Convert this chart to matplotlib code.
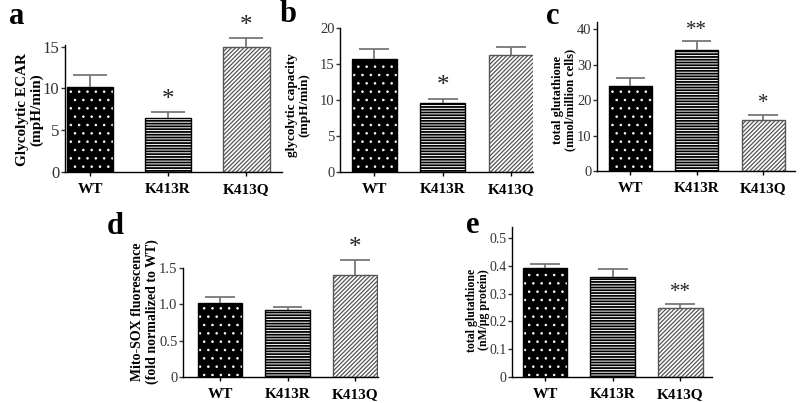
import matplotlib
matplotlib.use("Agg")
import matplotlib.pyplot as plt

plt.rcParams['font.family'] = ['Liberation Serif', 'DejaVu Serif']
plt.rcParams['hatch.linewidth'] = 0.9

groups = ['WT', 'K413R', 'K413Q']

# panel a: glycolytic ECAR
ecar = [10.2, 6.5, 15.0]
ecar_err = [1.4, 0.7, 1.0]
ecar_sig = ['', '*', '*']

# panel b: glycolytic capacity
capacity = [15.7, 9.6, 16.3]
capacity_err = [1.4, 0.6, 1.1]
capacity_sig = ['', '*', '']

# panel c: total glutathione per million cells
gsh_cells = [24.0, 34.2, 14.5]
gsh_cells_err = [2.2, 2.4, 1.3]
gsh_cells_sig = ['', '**', '*']

# panel d: Mito-SOX
mitosox = [1.02, 0.92, 1.41]
mitosox_err = [0.08, 0.05, 0.20]
mitosox_sig = ['', '', '*']

# panel e: total glutathione per ug protein
gsh_prot = [0.392, 0.360, 0.250]
gsh_prot_err = [0.014, 0.028, 0.014]
gsh_prot_sig = ['', '', '**']

W, H = 800, 403
fig = plt.figure(figsize=(8, 4.03), dpi=100)


def px_axes(left, right, top, bottom):
    return fig.add_axes([left / W, 1 - bottom / H, (right - left) / W, (bottom - top) / H])


def hatch_lw(bars, lw):
    for b in bars:
        if hasattr(b, 'set_hatch_linewidth'):
            b.set_hatch_linewidth(lw)


def draw_panel(ax, vals, errs, sigs, width, xlim, ylim, yticks, ytl, tick_fs, star_fs):
    x = range(len(vals))
    # WT: black with white dots
    b = ax.bar(x[0], vals[0], width, facecolor='black', edgecolor='white', hatch='..', linewidth=0)
    hatch_lw(b, 0.6)
    ax.bar(x[0], vals[0], width, facecolor='none', edgecolor='black', linewidth=1)
    # K413R: horizontal stripes
    b = ax.bar(x[1], vals[1], width, facecolor='white', edgecolor='black', hatch='------', linewidth=1)
    hatch_lw(b, 1.3)
    # K413Q: diagonal stripes
    b = ax.bar(x[2], vals[2], width, facecolor='white', edgecolor='#555555', hatch='////////', linewidth=1)
    hatch_lw(b, 0.9)
    for xi, v, e, s in zip(x, vals, errs, sigs):
        ax.vlines(xi, v, v + e, color='#777777', lw=1.3, clip_on=False)
        ax.hlines(v + e, xi - 0.22, xi + 0.22, color='#777777', lw=1.3, clip_on=False)
        if s:
            ax.text(xi, v + e + (ylim[1] - ylim[0]) * 0.01, s, ha='center', va='bottom',
                    fontsize=star_fs, color='#222222', clip_on=False)
    ax.set_xlim(*xlim)
    ax.set_ylim(*ylim)
    ax.set_yticks(yticks)
    ax.set_yticklabels(ytl, fontsize=tick_fs)
    ax.set_xticks(list(x))
    ax.set_xticklabels(groups, fontsize=11, fontweight='bold')
    for sp in ['top', 'right']:
        ax.spines[sp].set_visible(False)
    ax.spines['left'].set_linewidth(1)
    ax.spines['bottom'].set_linewidth(1)
    ax.tick_params(axis='y', length=3, width=1, pad=1, colors='#333333')
    ax.tick_params(axis='x', length=3, width=1, pad=5)


def ylabel(xc, yc, text, fs):
    fig.text(xc / W, 1 - yc / H, text, rotation=90, ha='center', va='center',
             fontsize=fs, fontweight='bold', linespacing=1.1)


def letter(xc, yc, text):
    fig.text(xc / W, 1 - yc / H, text, ha='center', va='center', fontsize=22, fontweight='bold')


ax_a = px_axes(65, 282, 45, 172)
draw_panel(ax_a, ecar, ecar_err, ecar_sig, 0.6, (-0.32, 2.46), (0, 15.2),
           [0, 5, 10, 15], ['0', '5', '10', '15'], 12, 18)
ylabel(30, 110, 'Glycolytic ECAR\n(mpH/min)', 11)
letter(17, 16, 'a')

ax_b = px_axes(340, 533, 28, 172)
draw_panel(ax_b, capacity, capacity_err, capacity_sig, 0.66, (-0.5, 2.32), (0, 20),
           [0, 5, 10, 15, 20], ['0', '5', '10', '15', '20'], 10.5, 18)
ylabel(298, 105, 'glycolytic capacity\n(mpH/min)', 9.5)
letter(288, 14, 'b')

ax_c = px_axes(597, 795, 22, 171)
draw_panel(ax_c, gsh_cells, gsh_cells_err, gsh_cells_sig, 0.65, (-0.5, 2.48), (0, 42),
           [0, 10, 20, 30, 40], ['0', '10', '20', '30', '40'], 10.5, 15)
ylabel(564, 100, 'total glutathione\n(nmol/million cells)', 9)
letter(553, 16, 'c')

ax_d = px_axes(183, 378, 268, 377)
draw_panel(ax_d, mitosox, mitosox_err, mitosox_sig, 0.66, (-0.55, 2.34), (0, 1.5),
           [0, 0.5, 1.0, 1.5], ['0', '0.5', '1.0', '1.5'], 10.5, 18)
ylabel(145, 312, 'Mito-SOX fluorescence\n(fold normalized to WT)', 10)
letter(115, 227, 'd')

ax_e = px_axes(512, 712, 227, 377)
draw_panel(ax_e, gsh_prot, gsh_prot_err, gsh_prot_sig, 0.66, (-0.49, 2.47), (0, 0.54),
           [0, 0.1, 0.2, 0.3, 0.4, 0.5], ['0', '0.1', '0.2', '0.3', '0.4', '0.5'], 10, 15)
ylabel(478, 310, 'total glutathione\n(nM/\u03bcg protein)', 8.5)
letter(473, 226, 'e')

fig.savefig('out.png', dpi=100)
